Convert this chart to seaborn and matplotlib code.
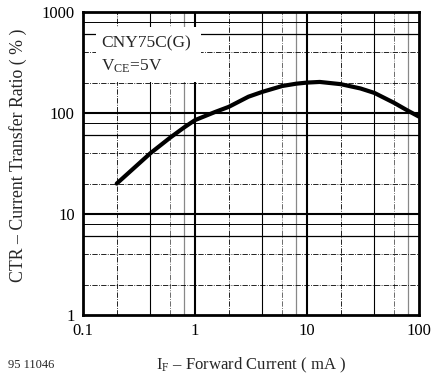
import matplotlib
matplotlib.use("Agg")
import matplotlib.pyplot as plt
import matplotlib.patches as mpatches
import seaborn as sns
import pandas as pd

# Data
forward_current_mA = [0.2, 0.3, 0.4, 0.6, 0.8, 1, 1.5, 2, 3, 4, 6, 8, 10, 13, 20, 30, 40, 60, 80, 100]
ctr_percent = [20, 30, 40, 57, 72, 85, 102, 115, 145, 162, 185, 195, 200, 203, 193, 175, 158, 126, 105, 92]
x_ticks = [0.1, 1, 10, 100]
x_tick_labels = ["0.1", "1", "10", "100"]
y_ticks = [1, 10, 100, 1000]
y_tick_labels = ["1", "10", "100", "1000"]

sns.set_style("white")
plt.rcParams['font.family'] = ['Liberation Serif', 'DejaVu Serif']
plt.rcParams['mathtext.fontset'] = 'custom'
plt.rcParams['mathtext.rm'] = 'Liberation Serif'
plt.rcParams['mathtext.it'] = 'Liberation Serif'

fig = plt.figure(figsize=(4.35, 3.76), dpi=100)
ax = fig.add_axes([83/435, 1-315/376, (419-83)/435, (315-12)/376])

ax.set_xscale('log')
ax.set_yscale('log')
ax.set_xlim(0.1, 100)
ax.set_ylim(1, 1000)

# grid lines
vstyles = [dict(color='black', lw=0.6, ls='-.'),
           dict(color='black', lw=0.8, ls='-'),
           dict(color='#555555', lw=0.6, ls='-.'),
           dict(color='#888888', lw=0.9, ls='-')]
hstyles = [dict(color='black', lw=0.6, ls='-.'),
           dict(color='black', lw=0.6, ls='-.'),
           dict(color='black', lw=0.9, ls='-'),
           dict(color='black', lw=0.7, ls='-')]
for dec in [0.1, 1, 10]:
    for m, style in zip([2, 4, 6, 8], vstyles):
        ax.axvline(dec*m, zorder=1, **style)
for dec in [1, 10, 100]:
    for m, style in zip([2, 4, 6, 8], hstyles):
        ax.axhline(dec*m, zorder=1, **style)
for v in [1, 10]:
    ax.axvline(v, color='black', lw=1.5, zorder=1)
for v in [10, 100]:
    ax.axhline(v, color='black', lw=1.5, zorder=1)

# white area behind the annotation
ax.add_patch(mpatches.Rectangle((0.04, 0.769), 0.31, 0.181, transform=ax.transAxes,
                                facecolor='white', edgecolor='none', zorder=2))

df = pd.DataFrame({"IF": forward_current_mA, "CTR": ctr_percent})
sns.lineplot(data=df, x="IF", y="CTR", ax=ax, color='black', lw=3.0, zorder=3)

ax.set_xticks(x_ticks)
ax.set_xticklabels(x_tick_labels)
ax.set_yticks(y_ticks)
ax.set_yticklabels(y_tick_labels)
ax.minorticks_off()
ax.tick_params(length=0, labelsize=12, pad=6, colors='black')
ax.set_xlabel("")
ax.set_ylabel("")
for s in ax.spines.values():
    s.set_linewidth(2.0)
    s.set_color('black')

ax.text(0.055, 0.898, "CNY75C(G)", transform=ax.transAxes, fontsize=12.5, va='center', ha='left', zorder=4)
ax.text(0.055, 0.822, r"V$_{\rm CE}$=5V", transform=ax.transAxes, fontsize=12.5, va='center', ha='left', zorder=4)

fig.text(18/435, 1-155/376, "CTR \u2013 Current Transfer Ratio ( % )", rotation=90,
         ha='center', va='center', fontsize=12.8)
fig.text(251/435, 1-365/376, "I$_{\\rm F}$ \u2013 Forward Current ( mA )",
         ha='center', va='center', fontsize=12)
fig.text(8/435, 1-365/376, "95 11046", ha='left', va='center', fontsize=9)

fig.savefig("out.png", dpi=100)
